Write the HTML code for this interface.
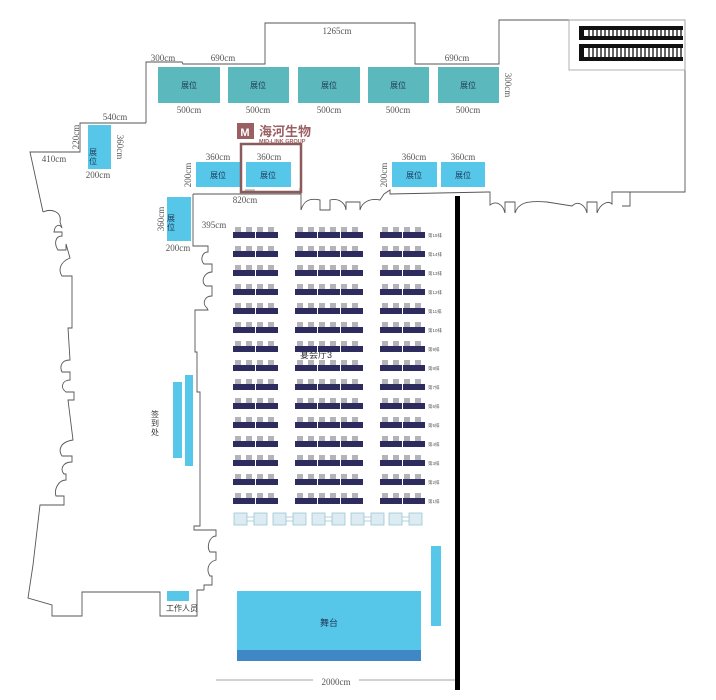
<!DOCTYPE html>
<html><head><meta charset="utf-8"><style>
html,body{margin:0;padding:0;background:#fff;}
svg{display:block;font-family:"Liberation Serif","Noto Serif CJK SC",serif;}
.cj{font-family:"Liberation Sans","Noto Sans CJK SC",sans-serif;}
</style></head><body>
<svg width="716" height="700" viewBox="0 0 716 700" xmlns="http://www.w3.org/2000/svg">
<defs>
<g id="row">
<g fill="#b4b4b8">
<rect x="235" y="0" width="6" height="6"/><rect x="246" y="0" width="6" height="6"/><rect x="257" y="0" width="6" height="6"/><rect x="268" y="0" width="6" height="6"/>
<rect x="297" y="0" width="6" height="6"/><rect x="308" y="0" width="6" height="6"/><rect x="319" y="0" width="6" height="6"/><rect x="330" y="0" width="6" height="6"/><rect x="341" y="0" width="6" height="6"/><rect x="352" y="0" width="6" height="6"/>
<rect x="382" y="0" width="6" height="6"/><rect x="393" y="0" width="6" height="6"/><rect x="404" y="0" width="6" height="6"/><rect x="415" y="0" width="6" height="6"/>
</g>
<g fill="#2e2b5e">
<rect x="233" y="5" width="22" height="6"/><rect x="256" y="5" width="22" height="6"/>
<rect x="295" y="5" width="22" height="6"/><rect x="318" y="5" width="22" height="6"/><rect x="341" y="5" width="22" height="6"/>
<rect x="380" y="5" width="22" height="6"/><rect x="403" y="5" width="22" height="6"/>
</g>
</g>
<g id="chairp" fill="#dcecf2" stroke="#9cc6d4" stroke-width="0.8">
<rect x="0" y="0" width="13" height="12"/><rect x="20" y="0" width="13" height="12"/><line x1="13" y1="4" x2="20" y2="4"/><line x1="13" y1="8" x2="20" y2="8"/>
</g>
</defs>

<g fill="none" stroke="#555" stroke-width="0.9">
<!-- top outline -->
<polyline points="146,123 146,62 182,62 183,64 265,64 265,23 415,23 415,64 499,64 499,20 685,20 685,192 630,192 630,206 622,206"/>
<rect x="569" y="20" width="116" height="50" stroke="#aaa"/>
<!-- right doors -->
<path d="M488,192 L490,192 L490,205 C497,200 503,205 505,213 L505,202 L515,202 L515,213 C518,204 525,200 547,202 L572,206 C578,200 585,205 587,213 L587,202 L597,202 L597,213 C600,204 608,200 612,204 L612,192 L630,192"/>
<!-- left upper ledge -->
<polyline points="146,123 80,123 80,152 30,152 43,212"/>
<!-- left wall with doors -->
<path d="M43,212 C52,208 62,212 60,222 L62,228 C60,224 55,224 54,232 L62,232 L62,236 C55,236 54,244 58,250 L66,250 L66,244 L70,258 C60,262 58,270 62,276 L72,276 L72,328 L68,328 L70,360 C60,360 60,368 62,372 L70,372 L70,380 C62,380 60,388 66,392 L74,392 L74,400 L68,400 L73,440 C60,442 58,450 62,456 L72,456 L72,462 C62,462 60,470 64,474 L66,474 L66,480 C58,480 54,490 56,496 L64,496 L64,505 L40,505 L33,565 L28,598 L52,605 L52,616 L82,616 L82,592 L160,592 L160,616 L197,616 L197,590 L204,590"/>
<!-- right inner wall -->
<path d="M193,194 L300,194 M193,194 L193,246 L208,246 L208,252 C202,252 200,260 204,264 L212,264 L212,272 C204,272 200,282 206,286 L212,286 L212,296 C204,296 202,304 207,308 L208,310 L195,310 L195,352 L197,352 L197,392 L200,392 L200,526 L194,526 L194,530 L216,530 L216,536 C210,536 206,546 210,552 L216,552 L216,560 C208,562 206,570 210,576 L212,576 L212,585 L204,585 L204,590"/>
<!-- center doors -->
<path d="M300,194 L300,188 M300,194 L301,194 L301,210 C304,200 310,198 320,200 L320,210 L330,210 L330,200 C338,198 345,202 346,210 L346,202 L360,202 L360,210 C362,202 370,198 380,200 L380,200 L384,194 L390,190 L390,194 L488,192"/>
</g>
<line x1="245" y1="190" x2="255" y2="190" stroke="#555" stroke-width="0.6"/>

<!-- escalator -->
<g fill="#111">
<rect x="579" y="26" width="104" height="4"/><rect x="579" y="36" width="104" height="4"/><rect x="579" y="26" width="5" height="14"/>
<rect x="579" y="44" width="104" height="4"/><rect x="579" y="57" width="104" height="4"/><rect x="579" y="44" width="5" height="17"/>
</g>
<g stroke="#111" stroke-width="1.3">
<path d="M589,30 V36 M593,30 V36 M597,30 V36 M601,30 V36 M605,30 V36 M609,30 V36 M613,30 V36 M617,30 V36 M621,30 V36 M625,30 V36 M629,30 V36 M633,30 V36 M637,30 V36 M641,30 V36 M645,30 V36 M649,30 V36 M653,30 V36 M657,30 V36 M661,30 V36 M665,30 V36 M669,30 V36 M673,30 V36 M677,30 V36 M681,30 V36"/>
<path d="M589,48 V57 M593,48 V57 M597,48 V57 M601,48 V57 M605,48 V57 M609,48 V57 M613,48 V57 M617,48 V57 M621,48 V57 M625,48 V57 M629,48 V57 M633,48 V57 M637,48 V57 M641,48 V57 M645,48 V57 M649,48 V57 M653,48 V57 M657,48 V57 M661,48 V57 M665,48 V57 M669,48 V57 M673,48 V57 M677,48 V57 M681,48 V57"/>
</g>

<!-- top booths -->
<g fill="#5bb8bc">
<rect x="158" y="67" width="62" height="36"/><rect x="228" y="67" width="61" height="36"/><rect x="298" y="67" width="62" height="36"/><rect x="368" y="67" width="61" height="36"/><rect x="438" y="67" width="61" height="36"/>
</g>
<g class="cj" font-size="8" fill="#1f3a5a" text-anchor="middle">
<text x="189" y="88">展位</text><text x="258" y="88">展位</text><text x="329" y="88">展位</text><text x="398" y="88">展位</text><text x="468" y="88">展位</text>
</g>
<g font-size="9" fill="#555" text-anchor="middle">
<text x="189" y="113">500cm</text><text x="258" y="113">500cm</text><text x="329" y="113">500cm</text><text x="398" y="113">500cm</text><text x="468" y="113">500cm</text>
<text x="163" y="61">300cm</text><text x="223" y="61">690cm</text><text x="337" y="34">1265cm</text><text x="457" y="61">690cm</text>
<text x="115" y="120">540cm</text><text x="54" y="162">410cm</text>
<text x="98" y="178">200cm</text><text x="178" y="251">200cm</text><text x="214" y="228">395cm</text><text x="245" y="203">820cm</text>
<text x="218" y="160">360cm</text><text x="269" y="160">360cm</text><text x="414" y="160">360cm</text><text x="463" y="160">360cm</text>
<text x="336" y="685">2000cm</text>
<text transform="translate(505,85) rotate(90)">300cm</text>
<text transform="translate(79,137) rotate(-90)">220cm</text>
<text transform="translate(117,147) rotate(90)">360cm</text>
<text transform="translate(164,219) rotate(-90)">360cm</text>
<text transform="translate(191,175) rotate(-90)">200cm</text>
<text transform="translate(387,175) rotate(-90)">200cm</text>
</g>
<line x1="216" y1="680" x2="313" y2="680" stroke="#888" stroke-width="0.8"/>
<line x1="359" y1="680" x2="455" y2="680" stroke="#888" stroke-width="0.8"/>

<!-- blue booths -->
<g fill="#56c6e9">
<rect x="88" y="125" width="23" height="44"/><rect x="167" y="197" width="24" height="44"/>
<rect x="196" y="162" width="44" height="25"/><rect x="246" y="162" width="45" height="25"/>
<rect x="392" y="162" width="45" height="25"/><rect x="441" y="162" width="44" height="25"/>
<rect x="173" y="382" width="9" height="76"/><rect x="185" y="375" width="8" height="91"/>
<rect x="167" y="591" width="22" height="10"/>
<rect x="431" y="546" width="10" height="80"/>
<rect x="237" y="591" width="184" height="60"/>
</g>
<rect x="237" y="650" width="184" height="11" fill="#3f88c5"/>
<g class="cj" font-size="8" fill="#1f3a5a" text-anchor="middle">
<text x="218" y="178">展位</text><text x="268" y="178">展位</text><text x="414" y="178">展位</text><text x="463" y="178">展位</text>
<text x="93" y="155">展</text><text x="93" y="164">位</text>
<text x="171" y="221">展</text><text x="171" y="230">位</text>
<text x="329" y="626" font-size="9">舞台</text>
</g>
<g class="cj" font-size="8" fill="#333" text-anchor="middle">
<text x="155" y="417">签</text><text x="155" y="426">到</text><text x="155" y="435">处</text>
<text x="182" y="611">工作人员</text>
<text x="316" y="358" font-size="9">宴会厅3</text>
</g>

<!-- logo -->
<rect x="241" y="144" width="60" height="48" fill="none" stroke="#8a5a5c" stroke-width="2.5"/>
<rect x="237" y="123" width="17" height="16" fill="#9a5f62"/>
<text x="245" y="136" class="cj" font-size="11" font-weight="bold" fill="#fff" text-anchor="middle">M</text>
<text x="259" y="136" class="cj" font-size="13" font-weight="bold" fill="#9a5f62">海河生物</text>
<text x="259" y="143" class="cj" font-size="5.5" font-weight="bold" fill="#9a5f62">MID-LINK GROUP</text>

<!-- tables -->
<use href="#row" y="227"/><use href="#row" y="246"/><use href="#row" y="265"/><use href="#row" y="284"/><use href="#row" y="303"/>
<use href="#row" y="322"/><use href="#row" y="341"/><use href="#row" y="360"/><use href="#row" y="379"/><use href="#row" y="398"/>
<use href="#row" y="417"/><use href="#row" y="436"/><use href="#row" y="455"/><use href="#row" y="474"/><use href="#row" y="493"/>
<g class="cj" font-size="4.5" fill="#555">
<text x="428" y="237">第15排</text><text x="428" y="256">第14排</text><text x="428" y="275">第13排</text><text x="428" y="294">第12排</text><text x="428" y="313">第11排</text>
<text x="428" y="332">第10排</text><text x="428" y="351">第9排</text><text x="428" y="370">第8排</text><text x="428" y="389">第7排</text><text x="428" y="408">第6排</text>
<text x="428" y="427">第5排</text><text x="428" y="446">第4排</text><text x="428" y="465">第3排</text><text x="428" y="484">第2排</text><text x="428" y="503">第1排</text>
</g>
<use href="#chairp" x="234" y="513"/><use href="#chairp" x="273" y="513"/><use href="#chairp" x="312" y="513"/><use href="#chairp" x="351" y="513"/><use href="#chairp" x="389" y="513"/>

<!-- thick wall -->
<rect x="455" y="196" width="5" height="494" fill="#000"/>
</svg>
</body></html>
